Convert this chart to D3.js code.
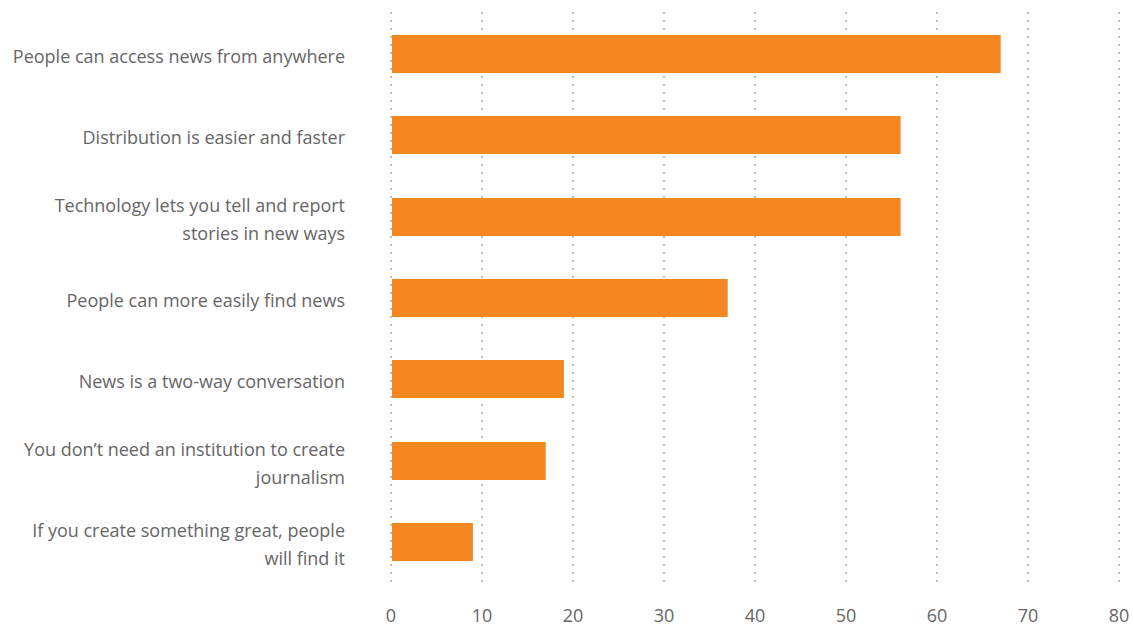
<!DOCTYPE html>
<html>
<head>
<meta charset="utf-8">
<script src="https://cdn.jsdelivr.net/npm/d3@7"></script>
<style>
  html, body { margin: 0; padding: 0; background: #fff; }
  svg { display: block; }
  text { font-family: "Open Sans", Lato, sans-serif; fill: #666; }
</style>
</head>
<body>
<svg id="chart" width="1134" height="627"></svg>
<script>
// Reasons cited, share of respondents (%)
const categories = [
  ["People can access news from anywhere"],
  ["Distribution is easier and faster"],
  ["Technology lets you tell and report", "stories in new ways"],
  ["People can more easily find news"],
  ["News is a two-way conversation"],
  ["You don\u2019t need an institution to create", "journalism"],
  ["If you create something great, people", "will find it"]
];
const values = [67, 56, 56, 37, 19, 17, 9];
const xTicks = [0, 10, 20, 30, 40, 50, 60, 70, 80];

const svg = d3.select("#chart");

const x = d3.scaleLinear().domain([0, 80]).range([391, 1119]);
const y = d3.scaleBand()
  .domain(d3.range(categories.length))
  .range([13.5, 582.5])
  .paddingInner(0.533)
  .paddingOuter(0.265);

// dotted vertical gridlines
svg.append("g")
  .selectAll("line")
  .data(xTicks)
  .join("line")
  .attr("x1", d => Math.round(x(d)))
  .attr("x2", d => Math.round(x(d)))
  .attr("y1", 12)
  .attr("y2", 584)
  .attr("stroke", "#bdbdbd")
  .attr("stroke-width", 2)
  .attr("stroke-dasharray", "2,6");

// bars
svg.append("g")
  .selectAll("rect")
  .data(values)
  .join("rect")
  .attr("x", x(0) + 1)
  .attr("y", (d, i) => Math.round(y(i)))
  .attr("width", d => x(d) - x(0) - 1)
  .attr("height", Math.round(y.bandwidth()))
  .attr("fill", "#f58720");

// category labels, right aligned
const labels = svg.append("g")
  .selectAll("text")
  .data(categories)
  .join("text")
  .attr("text-anchor", "end")
  .attr("font-size", 18)
  .attr("x", 345)
  .attr("y", (d, i) => y(i) + y.bandwidth() / 2 + 2);

labels.each(function(lines) {
  const t = d3.select(this);
  const lh = 28;
  const start = -(lines.length - 1) * lh / 2;
  lines.forEach((ln, k) => {
    t.append("tspan")
      .attr("x", 345)
      .attr("dy", k === 0 ? start : lh)
      .attr("dominant-baseline", "central")
      .text(ln);
  });
});

// x axis tick labels
svg.append("g")
  .selectAll("text")
  .data(xTicks)
  .join("text")
  .attr("text-anchor", "middle")
  .attr("font-size", 18)
  .attr("x", d => x(d))
  .attr("y", 622)
  .text(d => d);
</script>
</body>
</html>
